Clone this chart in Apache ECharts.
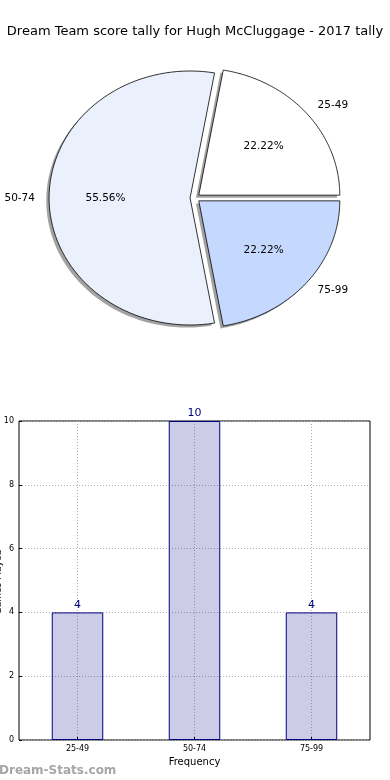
<!DOCTYPE html>
<html>
<head>
<meta charset="utf-8">
<script src="https://cdn.jsdelivr.net/npm/echarts@6/dist/echarts.min.js"></script>
<style>
html,body{margin:0;padding:0;background:#fff;}
#chart{width:390px;height:780px;}
</style>
</head>
<body>
<div id="chart"></div>
<script>
const titleText = 'Dream Team score tally for Hugh McCluggage - 2017 tally';
const categories = ['25-49', '50-74', '75-99'];
const counts = [4, 10, 4];
const pieColors = ['#ffffff', '#eaf1fd', '#c5d9fe'];
const explode = [0.035, 0.035, 0.035];
const yTicks = [0, 2, 4, 6, 8, 10];
const yAxisTitle = 'Games Played';

const FONT = 'DejaVu Sans';
const total = counts.reduce((a, b) => a + b, 0);

function sliceGeom(i) {
  let before = 0;
  for (let k = 0; k < i; k++) before += counts[k];
  const start = before / total * Math.PI * 2;
  const end = (before + counts[i]) / total * Math.PI * 2;
  const mid = (start + end) / 2;
  const cx = explode[i] * Math.cos(mid);
  const cy = explode[i] * Math.sin(mid);
  return { start, end, mid, cx, cy };
}

function slicePoints(api, g, ox, oy) {
  const pts = [api.coord([g.cx + ox, g.cy + oy])];
  const N = 80;
  for (let n = 0; n <= N; n++) {
    const a = g.start + (g.end - g.start) * n / N;
    pts.push(api.coord([g.cx + ox + Math.cos(a), g.cy + oy + Math.sin(a)]));
  }
  return pts;
}

const pieData = counts.map((v, i) => ({ name: categories[i], value: [i, v] }));

const chart = echarts.init(document.getElementById('chart'), null, { renderer: 'canvas' });
chart.setOption({
  animation: false,
  backgroundColor: '#ffffff',
  title: {
    text: titleText,
    left: 'center',
    top: 20,
    textStyle: { fontFamily: FONT, fontSize: 13, fontWeight: 'normal', color: '#000' }
  },
  grid: [
    { left: 54, width: 282, top: 71, height: 254, show: false, containLabel: false, outerBoundsMode: 'none' },
    { left: 19, right: 20, top: 421, bottom: 40, show: true, borderColor: '#000', borderWidth: 1, backgroundColor: 'transparent', containLabel: false, outerBoundsMode: 'none' }
  ],
  xAxis: [
    { gridIndex: 0, type: 'value', min: -1, max: 1, show: false },
    {
      gridIndex: 1, type: 'category', data: categories,
      name: 'Frequency', nameLocation: 'middle', nameGap: 17,
      nameTextStyle: { fontFamily: FONT, fontSize: 10, color: '#000' },
      axisLine: { show: false },
      axisTick: { show: true, alignWithLabel: true, inside: true, length: 3, lineStyle: { color: '#000' } },
      axisLabel: { fontFamily: FONT, fontSize: 8, color: '#000', margin: 5 },
      splitLine: { show: true, alignWithLabel: true, lineStyle: { color: '#b0b0b0', type: [1, 2], width: 1 } }
    }
  ],
  yAxis: [
    { gridIndex: 0, type: 'value', min: -1, max: 1, show: false },
    {
      gridIndex: 1, type: 'value', min: 0, max: 10, interval: 2,
      axisLine: { show: false },
      axisTick: { show: true, inside: true, length: 3, lineStyle: { color: '#000' } },
      axisLabel: { fontFamily: FONT, fontSize: 8, color: '#000', margin: 5 },
      splitLine: { show: true, lineStyle: { color: '#b0b0b0', type: [1, 2], width: 1 } }
    }
  ],
  series: [
    {
      type: 'custom', xAxisIndex: 0, yAxisIndex: 0, z: 1, silent: true,
      data: pieData,
      renderItem: function (params, api) {
        const g = sliceGeom(params.dataIndex);
        return {
          type: 'polygon',
          shape: { points: slicePoints(api, g, -0.02, -0.02) },
          style: { fill: 'rgba(70,70,70,0.5)', stroke: null }
        };
      }
    },
    {
      type: 'custom', xAxisIndex: 0, yAxisIndex: 0, z: 2, silent: true,
      data: pieData,
      renderItem: function (params, api) {
        const i = params.dataIndex;
        const g = sliceGeom(i);
        const lab = api.coord([g.cx + 1.1 * Math.cos(g.mid), g.cy + 1.1 * Math.sin(g.mid)]);
        const pct = api.coord([g.cx + 0.6 * Math.cos(g.mid), g.cy + 0.6 * Math.sin(g.mid)]);
        const pctText = (counts[i] / total * 100).toFixed(2) + '%';
        const labAlign = Math.cos(g.mid) > 0 ? 'left' : 'right';
        return {
          type: 'group',
          children: [
            {
              type: 'polygon',
              shape: { points: slicePoints(api, g, 0, 0) },
              style: { fill: pieColors[i], stroke: '#000', lineWidth: 0.8 }
            },
            {
              type: 'text', x: lab[0], y: lab[1],
              style: { text: categories[i], fill: '#000', font: '10.5px "DejaVu Sans"', align: labAlign, textAlign: labAlign, verticalAlign: 'middle', textVerticalAlign: 'middle' }
            },
            {
              type: 'text', x: pct[0], y: pct[1],
              style: { text: pctText, fill: '#000', font: '10.5px "DejaVu Sans"', align: 'center', textAlign: 'center', verticalAlign: 'middle', textVerticalAlign: 'middle' }
            }
          ]
        };
      }
    },
    {
      type: 'bar', xAxisIndex: 1, yAxisIndex: 1,
      data: counts,
      barWidth: '44%',
      itemStyle: { color: 'rgba(0,0,128,0.2)', borderColor: '#000080', borderWidth: 1 },
      label: { show: true, position: 'top', distance: 2, color: '#000080', fontFamily: FONT, fontSize: 11 }
    }
  ],
  graphic: [
    {
      type: 'text', x: 3, y: 582, rotation: Math.PI / 2,
      style: { text: yAxisTitle, fill: '#000', font: '9px "DejaVu Sans"', align: 'center', textAlign: 'center', verticalAlign: 'bottom', textVerticalAlign: 'bottom' }
    },
    {
      type: 'text', left: -1, top: 765,
      style: { text: 'Dream-Stats.com', fill: '#a6a6a6', font: 'bold 12px "DejaVu Sans"' }
    }
  ]
});
</script>
</body>
</html>
